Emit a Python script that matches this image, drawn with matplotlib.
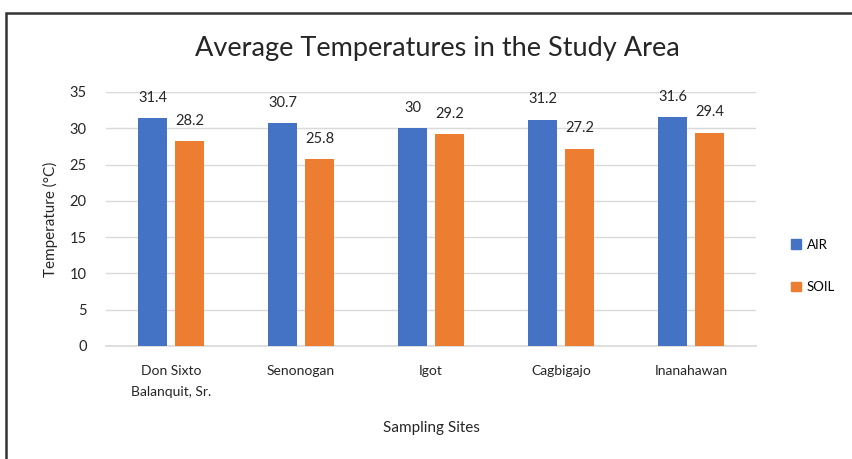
import numpy as np
import matplotlib
matplotlib.use("Agg")
import matplotlib.pyplot as plt
from matplotlib.patches import Rectangle, Patch

plt.rcParams['font.family'] = ['Lato', 'DejaVu Sans']

# Data.
sites = ['Don Sixto\nBalanquit, Sr.', 'Senonogan', 'Igot', 'Cagbigajo', 'Inanahawan']
air = [31.4, 30.7, 30, 31.2, 31.6]
soil = [28.2, 25.8, 29.2, 27.2, 29.4]
series_names = ['AIR', 'SOIL']
yticks = [0, 5, 10, 15, 20, 25, 30, 35]

blue = '#4472C4'
orange = '#ED7D31'

fig = plt.figure(figsize=(8.52, 4.59), dpi=100)
ax = fig.add_axes([0.1244, 0.2462, 0.7630, 0.5534])

x = np.arange(len(sites))
w = 0.223
off = 0.142
b1 = ax.bar(x - off, air, w, color=blue, zorder=3)
b2 = ax.bar(x + off, soil, w, color=orange, zorder=3)

for bars in (b1, b2):
    for rect in bars:
        h = rect.get_height()
        ax.annotate(f'{h:g}', (rect.get_x() + rect.get_width() / 2, h),
                    xytext=(0, 14.5), textcoords='offset points',
                    ha='center', va='center', fontsize=10.5, color='#262626')

ax.set_xlim(-0.5, len(sites) - 0.5)
ax.set_ylim(0, 35)
ax.set_yticks(yticks)
ax.set_xticks(x)
ax.set_xticklabels(sites, fontsize=10, color='#262626', linespacing=1.9)
ax.tick_params(axis='y', labelsize=10.5, labelcolor='#262626', length=0, pad=14)
ax.tick_params(axis='x', length=0, pad=14)

ax.grid(axis='y', color='#D9D9D9', linewidth=1, zorder=0)
for s in ['top', 'right', 'left']:
    ax.spines[s].set_visible(False)
ax.spines['bottom'].set_color('#D9D9D9')
ax.spines['bottom'].set_linewidth(1.2)

ax.set_ylabel('Temperature (°C)', fontsize=11, color='#262626', labelpad=8)
ax.set_xlabel('Sampling Sites', fontsize=11, color='#262626', labelpad=16)

fig.text(0.513, 0.895, 'Average Temperatures in the Study Area',
         ha='center', va='center', fontsize=19.5, color='#262626')

handles = [Patch(color=blue), Patch(color=orange)]
fig.legend(handles, series_names, loc='center left', bbox_to_anchor=(0.915, 0.4205),
           frameon=False, fontsize=9.5, labelspacing=2.3, handlelength=0.75,
           handleheight=0.75, handletextpad=0.4)

# Outer border of the chart box.
fig.patches.append(Rectangle((6 / 852, -0.1), 1.2, 1.1 - 13 / 459,
                             transform=fig.transFigure, fill=False,
                             edgecolor='#333333', linewidth=1.8))

fig.savefig('out.png', dpi=100)
